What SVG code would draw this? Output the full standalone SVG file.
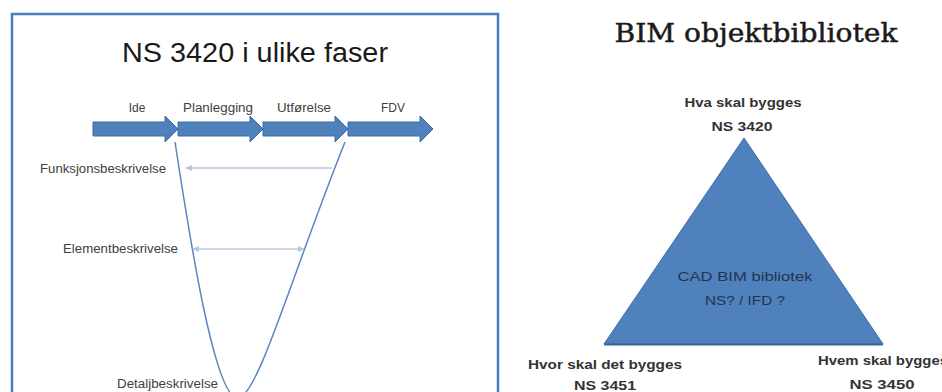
<svg xmlns="http://www.w3.org/2000/svg" width="942" height="392" viewBox="0 0 942 392">
<style>
.lbl{font-family:"Liberation Sans",Arial,sans-serif;font-size:12px;fill:#404040;text-anchor:middle}
.side{font-family:"Liberation Sans",Arial,sans-serif;font-size:12px;fill:#404040}
.ttl{font-family:"Liberation Sans",Arial,sans-serif;font-size:27px;fill:#1a1a1a;text-anchor:middle}
.ttl2{font-family:"DejaVu Serif","Liberation Serif",serif;font-size:26px;fill:#1a1a1a;stroke:#1a1a1a;stroke-width:0.5;text-anchor:middle}
.bold{font-family:"Liberation Sans",Arial,sans-serif;font-size:12.5px;font-weight:bold;fill:#333;text-anchor:middle}
.inner{font-family:"Liberation Sans",Arial,sans-serif;font-size:13px;fill:#26344d;text-anchor:middle}
.arr{fill:#4f81bd;stroke:#3d6ca4;stroke-width:1}
.hl{stroke:#b7c8de;stroke-width:1.5;fill:none}
</style>
<defs>
<marker id="ah" viewBox="0 0 6 6" refX="5" refY="3" markerWidth="5" markerHeight="5" orient="auto-start-reverse">
<path d="M0,0.5 L6,3 L0,5.5 z" fill="#b7c8de"/>
</marker>
</defs>
<rect width="942" height="392" fill="#fff"/>
<g id="panel-left">
<rect x="12" y="14" width="486" height="420" fill="none" stroke="#4a7ebf" stroke-width="2.5"/>
<text class="ttl" x="255" y="62" textLength="266" lengthAdjust="spacingAndGlyphs">NS 3420 i ulike faser</text>
</g>
<g id="phase-ide">
<polygon class="arr" points="93,122 165,122 165,116 178,129 165,142 165,136 93,136"/>
<text class="lbl" x="137" y="112">Ide</text>
</g>
<g id="phase-planlegging">
<polygon class="arr" points="178,122 250,122 250,116 263,129 250,142 250,136 178,136"/>
<text class="lbl" x="218" y="112" textLength="70" lengthAdjust="spacingAndGlyphs">Planlegging</text>
</g>
<g id="phase-utforelse">
<polygon class="arr" points="263,122 335,122 335,116 348,129 335,142 335,136 263,136"/>
<text class="lbl" x="304" y="112" textLength="54" lengthAdjust="spacingAndGlyphs">Utførelse</text>
</g>
<g id="phase-fdv">
<polygon class="arr" points="348,122 420,122 420,116 433,129 420,142 420,136 348,136"/>
<text class="lbl" x="393" y="112">FDV</text>
</g>
<g id="level-funksjon">
<text class="side" x="40" y="173" textLength="126" lengthAdjust="spacingAndGlyphs">Funksjonsbeskrivelse</text>
</g>
<g id="level-element">
<text class="side" x="63" y="253" textLength="115" lengthAdjust="spacingAndGlyphs">Elementbeskrivelse</text>
</g>
<g id="level-detalj">
<text class="side" x="117" y="388" textLength="101" lengthAdjust="spacingAndGlyphs">Detaljbeskrivelse</text>
</g>
<g id="connectors">
<path d="M175,142 C190,240 215,400 238,398 C258,396 290,280 345,142" fill="none" stroke="#5a85c0" stroke-width="1.5"/>
<line class="hl" x1="186" y1="168" x2="332" y2="168" marker-start="url(#ah)"/>
<line class="hl" x1="193" y1="249" x2="304" y2="249" marker-start="url(#ah)" marker-end="url(#ah)"/>
</g>
<g id="panel-right">
<text class="ttl2" x="756" y="42" textLength="283" lengthAdjust="spacingAndGlyphs">BIM objektbibliotek</text>
</g>
<g id="triangle">
<polygon points="744,138 883,344 604,344" fill="#4f81bd" stroke="#3f6ea8" stroke-width="1"/>
<line x1="604" y1="344.5" x2="883" y2="344.5" stroke="#3a659b" stroke-width="2"/>
<text class="inner" x="745" y="281" textLength="135" lengthAdjust="spacingAndGlyphs">CAD BIM bibliotek</text>
<text class="inner" x="745" y="305" textLength="80" lengthAdjust="spacingAndGlyphs">NS? / IFD ?</text>
</g>
<g id="corner-top">
<text class="bold" x="743" y="107" textLength="117" lengthAdjust="spacingAndGlyphs">Hva skal bygges</text>
<text class="bold" x="742" y="131" textLength="61" lengthAdjust="spacingAndGlyphs">NS 3420</text>
</g>
<g id="corner-left">
<text class="bold" x="605" y="369" textLength="154" lengthAdjust="spacingAndGlyphs">Hvor skal det bygges</text>
<text class="bold" x="605" y="390" textLength="62" lengthAdjust="spacingAndGlyphs">NS 3451</text>
</g>
<g id="corner-right">
<text class="bold" x="883" y="365" textLength="130" lengthAdjust="spacingAndGlyphs">Hvem skal bygges</text>
<text class="bold" x="882" y="389" textLength="65" lengthAdjust="spacingAndGlyphs">NS 3450</text>
</g>
</svg>
